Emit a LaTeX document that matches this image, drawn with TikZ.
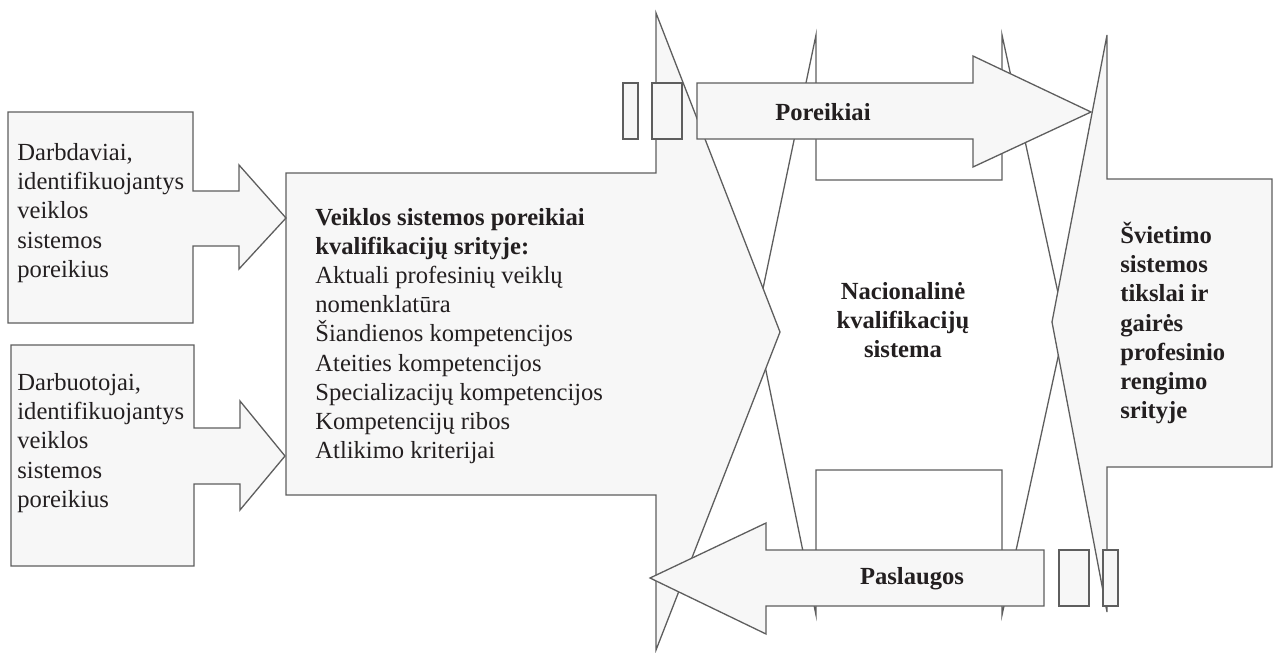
\documentclass[tikz,border=0pt]{standalone}
\usepackage{fontspec}
\setmainfont{Liberation Serif}
\definecolor{edge}{HTML}{5E5E5E}
\definecolor{shade}{HTML}{F7F7F7}
\definecolor{ink}{HTML}{231F20}
\begin{document}
\begin{tikzpicture}[x=0.5pt,y=-0.5pt,
  shapeg/.style={draw=edge,line width=0.65pt,fill=shade,line join=miter},
  shapew/.style={draw=edge,line width=0.65pt,fill=white,line join=miter},
  tinybox/.style={draw=edge,line width=0.6pt,fill=shade},
  txt/.style={inner sep=0pt,text=ink,font=\fontsize{12.3}{14.6}\selectfont,align=left},
  btxt/.style={inner sep=0pt,text=ink,font=\fontsize{12.3}{14.6}\selectfont\bfseries,align=left}]
\useasboundingbox (0,0) rectangle (1274,653);
% middle callout (white)
\draw[shapew] (816,35) -- (816,180) -- (1002,180) -- (1002,35) -- (1065,325) -- (1002,615) -- (1002,470) -- (816,470) -- (816,615) -- (756,322) -- cycle;
% right callout
\draw[shapeg] (1107,35) -- (1107,179) -- (1272,179) -- (1272,467) -- (1107,467) -- (1107,612) -- (1052,322) -- cycle;
% big central callout
\draw[shapeg] (286,173) -- (656,173) -- (656,13) -- (780,332) -- (656,650) -- (656,495) -- (286,495) -- cycle;
% left callouts
\draw[shapeg] (8,112) -- (193,112) -- (193,191) -- (239,191) -- (239,165) -- (286,218) -- (239,269) -- (239,246) -- (193,246) -- (193,323) -- (8,323) -- cycle;
\draw[shapeg] (11,345) -- (194,345) -- (194,428) -- (240,428) -- (240,401) -- (285,456) -- (240,510) -- (240,484) -- (194,484) -- (194,566) -- (11,566) -- cycle;
% Poreikiai arrow
\draw[shapeg] (697,83) -- (973,83) -- (973,56) -- (1091,112) -- (973,167) -- (973,139) -- (697,139) -- cycle;
\draw[tinybox] (623,83) rectangle (638,139);
\draw[tinybox] (652,83) rectangle (682,139);
% Paslaugos arrow
\draw[shapeg] (1044,550) -- (766,550) -- (766,523) -- (650,578) -- (766,634) -- (766,606) -- (1044,606) -- cycle;
\draw[tinybox] (1059,550) rectangle (1089,606);
\draw[tinybox] (1103,550) rectangle (1118,606);
% texts
\node[txt,anchor=west] (darbdaviai) at (17,213) {Darbdaviai,\\identifikuojantys\\veiklos\\sistemos\\poreikius};
\node[txt,anchor=west] (darbuotojai) at (17,443) {Darbuotojai,\\identifikuojantys\\veiklos\\sistemos\\poreikius};
\node[txt,anchor=west] (poreikiaiveikl) at (315,336) {\textbf{Veiklos sistemos poreikiai}\\\textbf{kvalifikacijų srityje:}\\Aktuali profesinių veiklų\\nomenklatūra\\Šiandienos kompetencijos\\Ateities kompetencijos\\Specializacijų kompetencijos\\Kompetencijų ribos\\Atlikimo kriterijai};
\node[btxt,align=center] (nks) at (903,320) {Nacionalinė\\kvalifikacijų\\sistema};
\node[btxt,anchor=west] (svietimo) at (1120,323) {Švietimo\\sistemos\\tikslai ir\\gairės\\profesinio\\rengimo\\srityje};
\node[btxt] (poreikiai) at (823,112) {Poreikiai};
\node[btxt] (paslaugos) at (912,579) {Paslaugos};
\end{tikzpicture}
\end{document}
